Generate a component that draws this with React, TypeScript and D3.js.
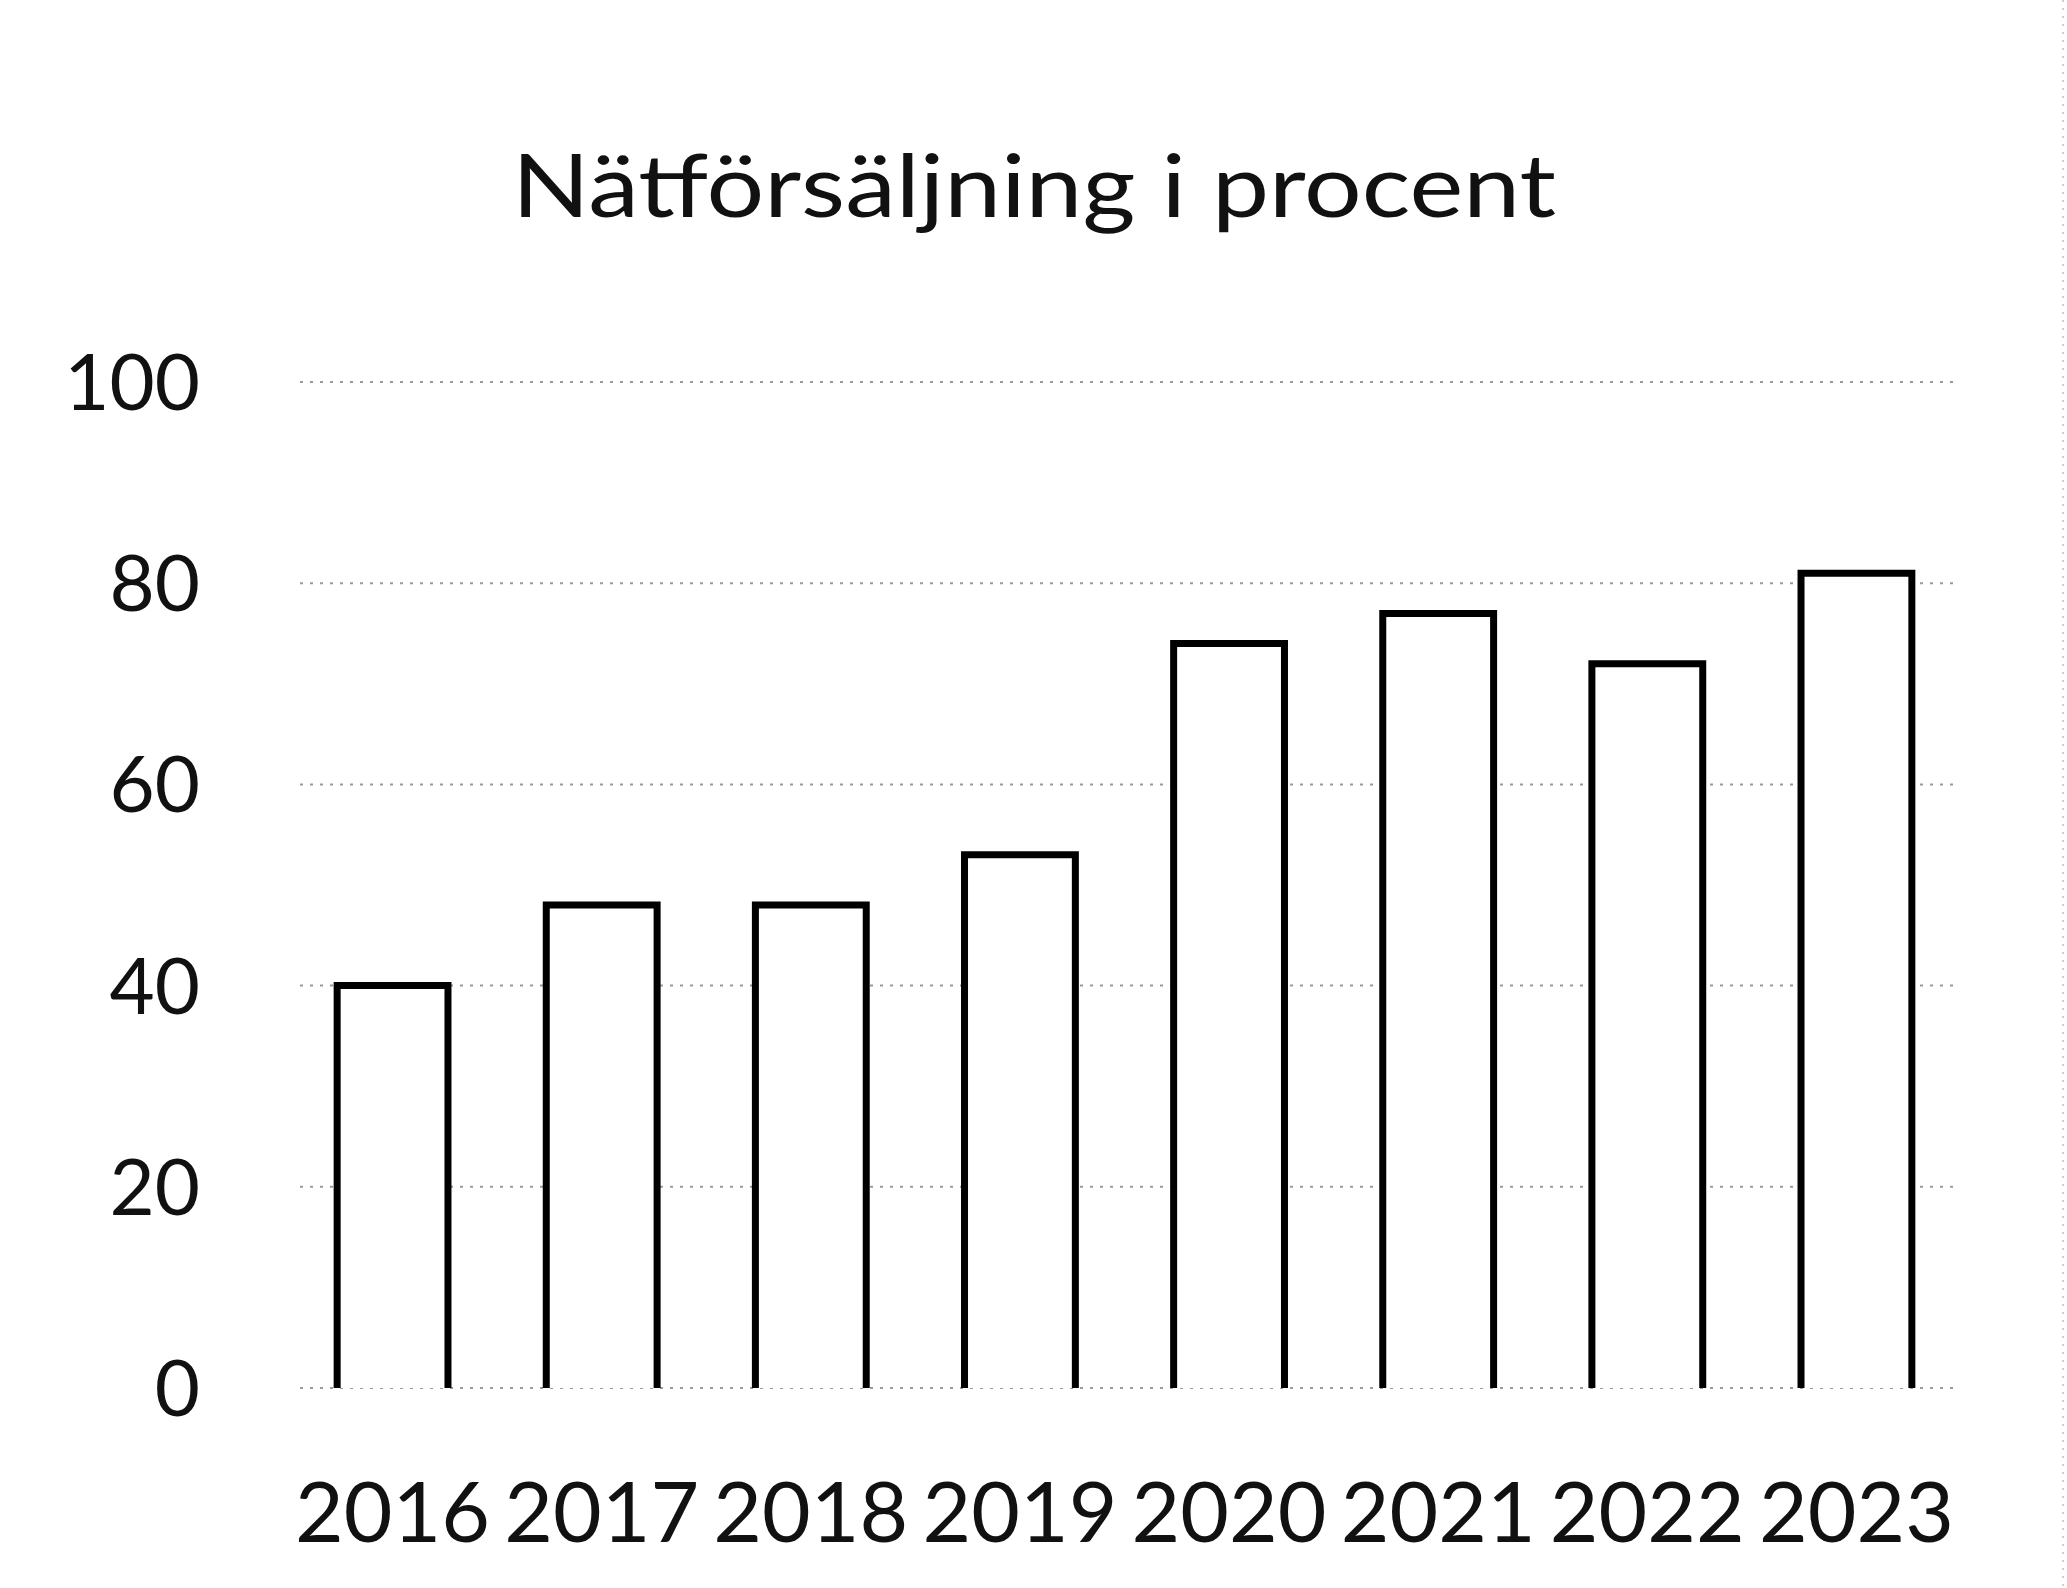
import React, { useEffect, useRef } from 'react';
import * as d3 from 'd3';

const title = 'Nätförsäljning i procent';
const years: string[] = ['2016', '2017', '2018', '2019', '2020', '2021', '2022', '2023'];
const shares: number[] = [40, 48, 48, 53, 74, 77, 72, 81];
const yTicks: number[] = [0, 20, 40, 60, 80, 100];

const WIDTH = 2067;
const HEIGHT = 1588;

const App: React.FC = () => {
    const svgRef = useRef<SVGSVGElement>(null);

    useEffect(() => {
        if (!svgRef.current) return;
        document.body.style.margin = '0';

        const svg = d3.select(svgRef.current);
        svg.selectAll('*').remove();

        const font = 'Lato, "Open Sans", sans-serif';

        const xScale = d3.scaleBand<string>()
            .domain(years)
            .range([288, 1961])
            .paddingInner(0.47)
            .paddingOuter(0.235);

        const yScale = d3.scaleLinear()
            .domain([0, 100])
            .range([1388, 382]);

        svg.append('rect')
            .attr('width', WIDTH)
            .attr('height', HEIGHT)
            .attr('fill', '#ffffff');

        // title (the source glyphs are wide, so stretch to its width)
        svg.append('text')
            .attr('x', 1034)
            .attr('y', 217)
            .attr('text-anchor', 'middle')
            .attr('font-family', font)
            .attr('font-size', 88)
            .attr('textLength', 1044)
            .attr('lengthAdjust', 'spacingAndGlyphs')
            .attr('fill', '#111')
            .text(title);

        // faint dotted gridlines
        svg.append('g')
            .selectAll('line')
            .data(yTicks)
            .join('line')
            .attr('x1', 300)
            .attr('x2', 1958)
            .attr('y1', d => yScale(d))
            .attr('y2', d => yScale(d))
            .attr('stroke', '#9a9a9a')
            .attr('stroke-width', 2)
            .attr('stroke-dasharray', '3 7');

        // y tick labels
        svg.append('g')
            .selectAll('text')
            .data(yTicks)
            .join('text')
            .attr('x', 200)
            .attr('y', d => yScale(d))
            .attr('dy', '0.36em')
            .attr('text-anchor', 'end')
            .attr('font-family', font)
            .attr('font-size', 78)
            .attr('fill', '#111')
            .text(d => d);

        // bars: outlined, open at the bottom
        const bw = xScale.bandwidth();
        svg.append('g')
            .selectAll('path')
            .data(years.map((y, i) => ({ year: y, value: shares[i] })))
            .join('path')
            .attr('d', d => {
                const x0 = xScale(d.year) ?? 0;
                const yTop = yScale(d.value);
                const yBase = yScale(0);
                return `M${x0},${yBase}V${yTop}H${x0 + bw}V${yBase}`;
            })
            .attr('fill', '#ffffff')
            .attr('stroke', '#000')
            .attr('stroke-width', 7)
            .attr('stroke-linejoin', 'miter');

        // x labels
        svg.append('g')
            .selectAll('text')
            .data(years)
            .join('text')
            .attr('x', d => (xScale(d) ?? 0) + bw / 2)
            .attr('y', 1542)
            .attr('text-anchor', 'middle')
            .attr('font-family', font)
            .attr('font-size', 84)
            .attr('fill', '#111')
            .text(d => d);

        // faint right border
        svg.append('line')
            .attr('x1', 2063)
            .attr('x2', 2063)
            .attr('y1', 0)
            .attr('y2', HEIGHT)
            .attr('stroke', '#cfcfcf')
            .attr('stroke-width', 2)
            .attr('stroke-dasharray', '2 6');
    }, []);

    return (
        <svg
            ref={svgRef}
            width={WIDTH}
            height={HEIGHT}
            style={{ position: 'absolute', top: 0, left: 0, display: 'block' }}
        ></svg>
    );
};

export default App;
